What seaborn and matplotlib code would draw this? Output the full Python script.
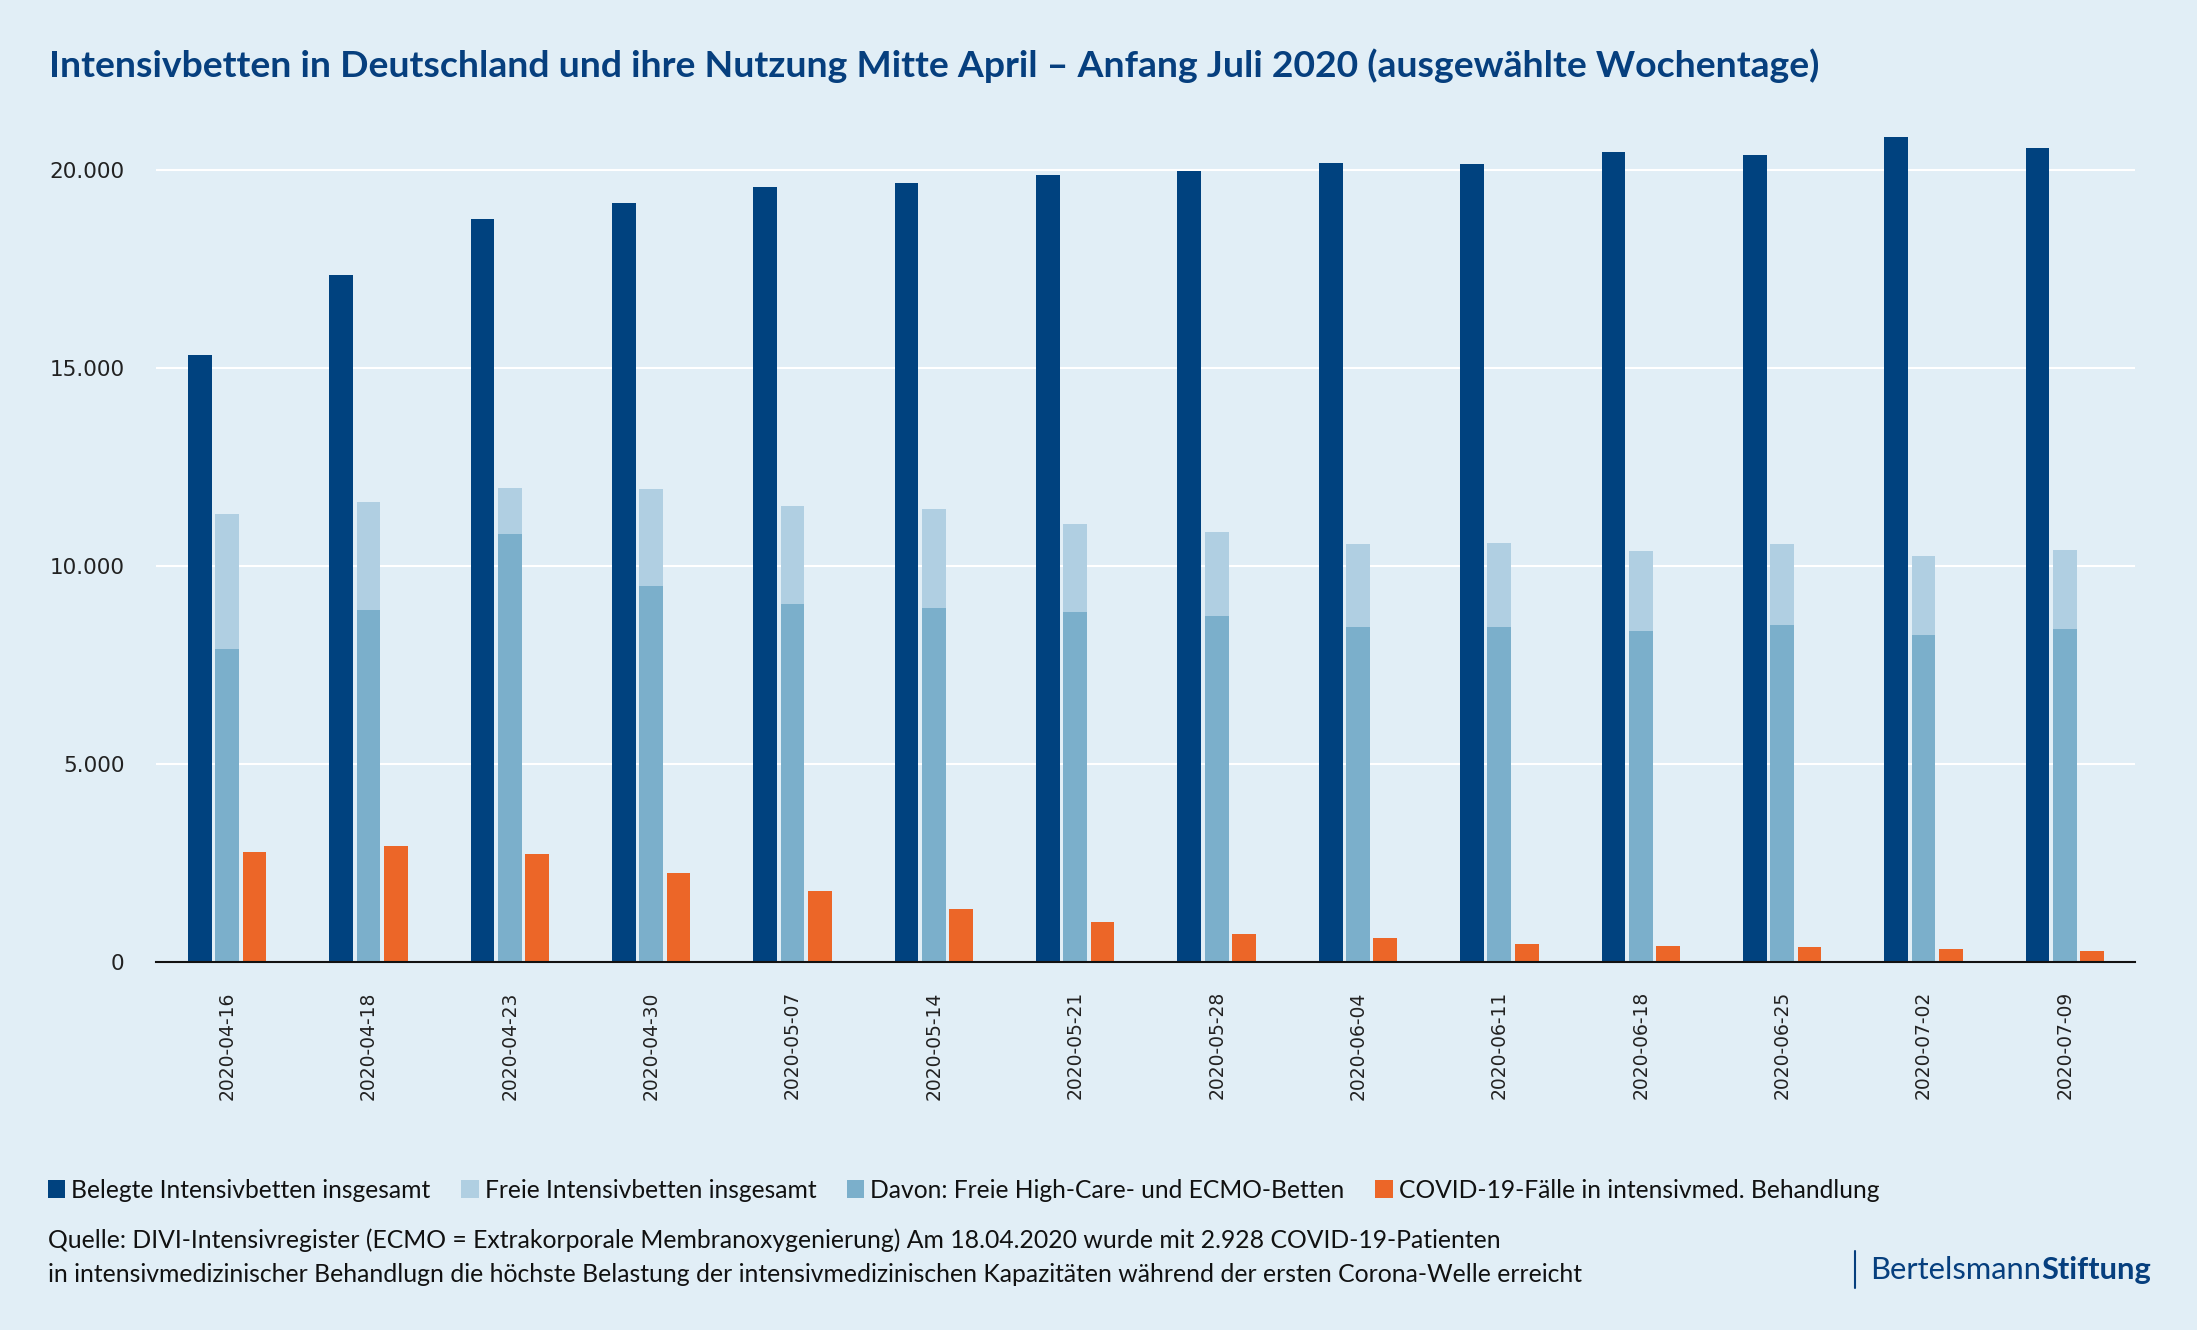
import matplotlib.pyplot as plt
import pandas as pd
import seaborn as sns
from matplotlib.patches import Patch
from matplotlib.lines import Line2D
from matplotlib.ticker import FuncFormatter, MultipleLocator

# Data
dates = ["2020-04-16", "2020-04-18", "2020-04-23", "2020-04-30", "2020-05-07",
         "2020-05-14", "2020-05-21", "2020-05-28", "2020-06-04", "2020-06-11",
         "2020-06-18", "2020-06-25", "2020-07-02", "2020-07-09"]
belegt = [15330, 17340, 18760, 19150, 19550, 19670, 19870, 19970, 20160, 20145,
          20440, 20380, 20810, 20550]
frei = [11310, 11600, 11965, 11940, 11505, 11440, 11060, 10860, 10560, 10575,
        10385, 10560, 10235, 10400]
davon = [7890, 8880, 10805, 9485, 9030, 8935, 8845, 8720, 8465, 8450,
         8355, 8515, 8265, 8410]
covid = [2780, 2928, 2735, 2245, 1785, 1325, 1015, 715, 610, 460,
         405, 370, 340, 285]

labels = ["Belegte Intensivbetten insgesamt", "Freie Intensivbetten insgesamt",
          "Davon: Freie High-Care- und ECMO-Betten",
          "COVID-19-Fälle in intensivmed. Behandlung"]

bg = "#E1EEF6"
c_dark = "#00427F"
c_light = "#B0CFE2"
c_mid = "#7BAFCB"
c_orange = "#EC6628"
c_title = "#063F7E"

sns.set_style("white", {"axes.facecolor": bg, "figure.facecolor": bg})
plt.rcParams['font.family'] = ['Lato', 'DejaVu Sans']

fig = plt.figure(figsize=(21.97, 13.30), dpi=100, facecolor=bg)
ax = fig.add_axes([0.0712, 0.2767, 0.9008, 0.6256])
ax.set_facecolor(bg)

hue_levels = ["Belegt", "Frei", "COVID"]
pal = {"Belegt": c_dark, "Frei": c_light, "COVID": c_orange}

# main bars: belegt / frei / covid side by side
df_main = pd.DataFrame({
    "Datum": dates * 3,
    "Reihe": ["Belegt"] * 14 + ["Frei"] * 14 + ["COVID"] * 14,
    "Wert": belegt + frei + covid,
})
sns.barplot(data=df_main, x="Datum", y="Wert", hue="Reihe", order=dates,
            hue_order=hue_levels, palette=pal,
            width=0.58, gap=0.13, saturation=1, errorbar=None,
            linewidth=0, legend=False, ax=ax)

# "davon" drawn over the middle slot (other slots zero so dodging matches)
df_davon = pd.DataFrame({
    "Datum": dates * 3,
    "Reihe": ["Belegt"] * 14 + ["Frei"] * 14 + ["COVID"] * 14,
    "Wert": [0] * 14 + davon + [0] * 14,
})
sns.barplot(data=df_davon, x="Datum", y="Wert", hue="Reihe", order=dates,
            hue_order=hue_levels,
            palette={"Belegt": c_dark, "Frei": c_mid, "COVID": c_orange},
            width=0.58, gap=0.13, saturation=1, errorbar=None,
            linewidth=0, legend=False, ax=ax)

ax.set_xlim(-0.5, 13.5)
ax.set_ylim(0, 21000)
ax.yaxis.set_major_locator(MultipleLocator(5000))
ax.yaxis.set_major_formatter(FuncFormatter(lambda v, p: f"{int(v):,}".replace(",", ".")))
ax.grid(axis="y", color="white", linewidth=1.5)
ax.set_axisbelow(True)
for s in ["left", "right", "top"]:
    ax.spines[s].set_visible(False)
ax.spines["bottom"].set_color("#111111")
ax.spines["bottom"].set_linewidth(1.5)
ax.set_xlabel("")
ax.set_ylabel("")
ax.tick_params(axis="y", length=0, pad=23, labelsize=15.5, labelcolor="#222222",
               labelfontfamily="DejaVu Sans")
ax.tick_params(axis="x", length=0, pad=21, labelsize=13.5, labelcolor="#222222",
               labelfontfamily="DejaVu Sans", labelrotation=90)

# title
fig.text(49 / 2197, 1 - 77 / 1330,
         "Intensivbetten in Deutschland und ihre Nutzung Mitte April – Anfang Juli 2020 (ausgewählte Wochentage)",
         fontsize=26.9, fontweight="bold", color=c_title, va="baseline", ha="left")

# legend
handles = [Patch(facecolor=c, edgecolor="none") for c in [c_dark, c_light, c_mid, c_orange]]
fig.legend(handles, labels, loc="center left", bbox_to_anchor=(48 / 2197, 1 - 1190 / 1330),
           ncol=4, frameon=False, fontsize=17.7, handlelength=0.7, handleheight=0.7,
           handletextpad=0.25, columnspacing=1.25, labelcolor="#111111",
           borderpad=0, borderaxespad=0)

# source note
fig.text(48 / 2197, 1 - 1248 / 1330,
         "Quelle: DIVI-Intensivregister (ECMO = Extrakorporale Membranoxygenierung) Am 18.04.2020 wurde mit 2.928 COVID-19-Patienten",
         fontsize=17.8, color="#111111", va="baseline", ha="left")
fig.text(48 / 2197, 1 - 1282 / 1330,
         "in intensivmedizinischer Behandlugn die höchste Belastung der intensivmedizinischen Kapazitäten während der ersten Corona-Welle erreicht",
         fontsize=17.8, color="#111111", va="baseline", ha="left")

# logo
fig.add_artist(Line2D([1855 / 2197, 1855 / 2197], [1 - 1251 / 1330, 1 - 1288 / 1330],
                      color=c_title, linewidth=1.5))
t1 = fig.text(1870 / 2197, 1 - 1279 / 1330, "Bertelsmann", fontsize=22.2,
              color=c_title, va="baseline", ha="left")
fig.canvas.draw()
bb = t1.get_window_extent()
fig.text(bb.x1 / fig.bbox.width, 1 - 1279 / 1330, "Stiftung", fontsize=22.2,
         fontweight="bold", color=c_title, va="baseline", ha="left")

fig.savefig("out.png", dpi=100, facecolor=bg)
